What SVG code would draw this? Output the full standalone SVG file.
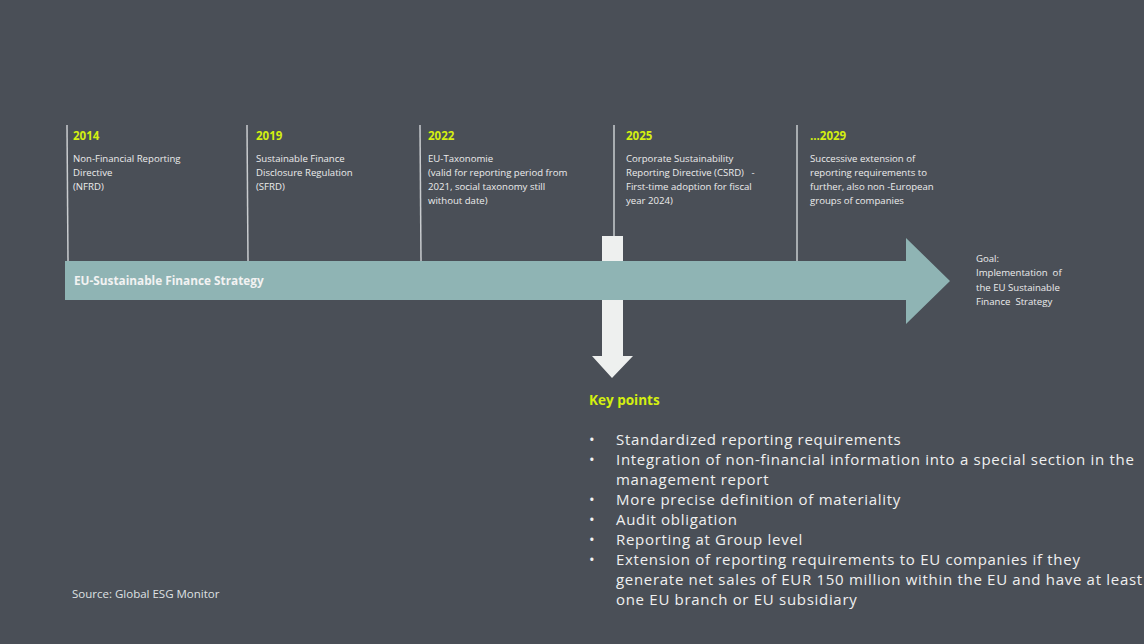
<svg xmlns="http://www.w3.org/2000/svg" width="1144" height="644" viewBox="0 0 1144 644">
<style>
.yr{font-family:"Open Sans","Liberation Sans",sans-serif;font-weight:bold;font-size:11.5px;fill:#d4ef10}
.ds{font-family:"Open Sans","Liberation Sans",sans-serif;font-size:9.6px;fill:#ececec}
.tick{stroke:#c9cccf;stroke-width:1.5}
.kp{font-family:"Open Sans","Liberation Sans",sans-serif;font-size:15px;fill:#f0f0f0}
</style>
<rect x="0" y="0" width="1144" height="644" fill="#4a4f57"/>
<g id="connectors">
<line class="tick" x1="67" y1="125" x2="68" y2="261"/>
<line class="tick" x1="247" y1="125" x2="248" y2="261"/>
<line class="tick" x1="420" y1="125" x2="421" y2="261"/>
<line class="tick" x1="614" y1="125" x2="614" y2="236"/>
<line class="tick" x1="797" y1="125" x2="797" y2="261"/>
</g>
<g id="main-arrow">
<polygon points="65,261 906,261 906,238 950,281 906,324 906,300 65,300" fill="#8fb4b4"/>
<text x="74" y="285" font-family="Open Sans, Liberation Sans, sans-serif" font-weight="bold" font-size="11.8" fill="#f2f2f2">EU-Sustainable  Finance  Strategy</text>
</g>
<g id="down-arrow">
<rect x="602" y="236" width="21" height="25" fill="#eef0ef"/>
<polygon points="602,300 623,300 623,356 633,356 612,378 592,356 602,356" fill="#eef0ef"/>
</g>
<g id="n2014">
<text class="yr" x="73" y="140">2014</text>
<text class="ds" x="73" y="161.5">Non-Financial Reporting</text>
<text class="ds" x="73" y="175.5">Directive</text>
<text class="ds" x="73" y="189.5">(NFRD)</text>
</g>
<g id="n2019">
<text class="yr" x="256" y="140">2019</text>
<text class="ds" x="256" y="161.5">Sustainable Finance</text>
<text class="ds" x="256" y="175.5">Disclosure Regulation</text>
<text class="ds" x="256" y="189.5">(SFRD)</text>
</g>
<g id="n2022">
<text class="yr" x="428" y="140">2022</text>
<text class="ds" x="428" y="161.5">EU-Taxonomie</text>
<text class="ds" x="428" y="175.5">(valid for reporting period from</text>
<text class="ds" x="428" y="189.5">2021, social taxonomy still</text>
<text class="ds" x="428" y="203.5">without date)</text>
</g>
<g id="n2025">
<text class="yr" x="626" y="140">2025</text>
<text class="ds" x="626" y="161.5">Corporate Sustainability</text>
<text class="ds" x="626" y="175.5" xml:space="preserve">Reporting Directive (CSRD)   -</text>
<text class="ds" x="626" y="189.5">First-time adoption for fiscal</text>
<text class="ds" x="626" y="203.5">year 2024)</text>
</g>
<g id="n2029">
<text class="yr" x="810" y="140">...2029</text>
<text class="ds" x="810" y="161.5">Successive extension of</text>
<text class="ds" x="810" y="175.5">reporting requirements to</text>
<text class="ds" x="810" y="189.5">further, also non -European</text>
<text class="ds" x="810" y="203.5">groups of companies</text>
</g>
<g id="goal">
<text class="ds" x="976" y="261.5">Goal:</text>
<text class="ds" x="976" y="275.5" xml:space="preserve">Implementation  of</text>
<text class="ds" x="976" y="290.5">the EU Sustainable</text>
<text class="ds" x="976" y="304.5" xml:space="preserve">Finance  Strategy</text>
</g>
<g id="key-points">
<text x="589" y="405" font-family="Open Sans, Liberation Sans, sans-serif" font-weight="bold" font-size="13.5" fill="#d4ef10">Key points</text>
<g class="kp">
<text x="589" y="445">•</text><text x="616" y="445" letter-spacing="0.7">Standardized reporting requirements</text>
<text x="589" y="465">•</text><text x="616" y="465" letter-spacing="0.7">Integration of non-financial information into a special section in the</text>
<text x="616" y="485" letter-spacing="0.7">management report</text>
<text x="589" y="505">•</text><text x="616" y="505" letter-spacing="0.7">More precise definition of materiality</text>
<text x="589" y="525">•</text><text x="616" y="525" letter-spacing="0.7">Audit obligation</text>
<text x="589" y="545">•</text><text x="616" y="545" letter-spacing="0.7">Reporting at Group level</text>
<text x="589" y="565">•</text><text x="616" y="565" letter-spacing="0.7">Extension of reporting requirements to EU companies if they</text>
<text x="616" y="585" letter-spacing="0.7">generate net sales of EUR 150 million within the EU and have at least</text>
<text x="616" y="605" letter-spacing="0.7">one EU branch or EU subsidiary</text>
</g>
</g>
<g id="source">
<text x="72" y="598" font-family="Open Sans, Liberation Sans, sans-serif" font-size="11.5" fill="#dfe1e3">Source: Global ESG Monitor</text>
</g>
</svg>
